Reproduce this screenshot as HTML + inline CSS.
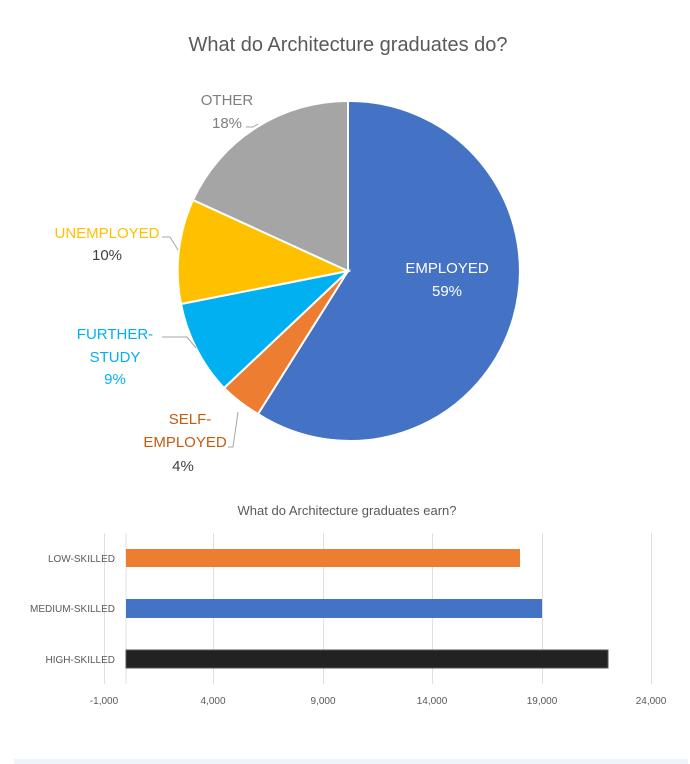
<!DOCTYPE html>
<html><head><meta charset="utf-8"><style>
html,body{margin:0;padding:0;background:#fff;}
body{width:690px;height:764px;position:relative;overflow:hidden;font-family:"Liberation Sans",sans-serif;}
</style></head><body>
<svg width="690" height="764" viewBox="0 0 690 764" xmlns="http://www.w3.org/2000/svg" style="position:absolute;left:0;top:0;font-family:'Liberation Sans',sans-serif">
<text x="348" y="51" text-anchor="middle" font-size="20" fill="#595959">What do Architecture graduates do?</text>
<g stroke="#fff" stroke-width="2">
<path d="M348,271 L348,101 A170,170 0 1 1 258,414 Z" fill="#4472C4"/>
<path d="M348,271 L258,414 A170,170 0 0 1 224,388 Z" fill="#ED7D31"/>
<path d="M348,271 L224,388 A170,170 0 0 1 181,304 Z" fill="#00B0F0"/>
<path d="M348,271 L181,304 A170,170 0 0 1 193,200 Z" fill="#FFC000"/>
<path d="M348,271 L193,200 A170,170 0 0 1 348,101 Z" fill="#A5A5A5"/>
</g>
<g fill="none" stroke="#a6a6a6" stroke-width="1">
<polyline points="246,127 253,127 258,124"/>
<polyline points="162,237 170,237 178,250"/>
<polyline points="162,337 187,337 196,348"/>
<polyline points="228,447 233,447 238,412"/>
</g>
<g font-size="15" text-anchor="middle">
<text x="227" y="105" fill="#7f7f7f">OTHER</text>
<text x="227" y="128" fill="#7f7f7f">18%</text>
<text x="107" y="238" fill="#FFC000">UNEMPLOYED</text>
<text x="107" y="260" fill="#404040">10%</text>
<text x="115" y="339" fill="#00B0F0">FURTHER-</text>
<text x="115" y="362" fill="#00B0F0">STUDY</text>
<text x="115" y="384" fill="#00B0F0">9%</text>
<text x="190" y="424" fill="#C55A11">SELF-</text>
<text x="185" y="447" fill="#C55A11">EMPLOYED</text>
<text x="183" y="471" fill="#404040">4%</text>
<text x="447" y="273" fill="#fff">EMPLOYED</text>
<text x="447" y="296" fill="#fff">59%</text>
</g>
<text x="347" y="515" text-anchor="middle" font-size="13" fill="#595959">What do Architecture graduates earn?</text>
<g stroke="#e0e0e0" stroke-width="1">
<line x1="104.5" y1="533" x2="104.5" y2="684"/>
<line x1="213.5" y1="533" x2="213.5" y2="684"/>
<line x1="323.5" y1="533" x2="323.5" y2="684"/>
<line x1="432.5" y1="533" x2="432.5" y2="684"/>
<line x1="542.5" y1="533" x2="542.5" y2="684"/>
<line x1="651.5" y1="533" x2="651.5" y2="684"/>
<line x1="126" y1="533" x2="126" y2="684"/>
</g>
<rect x="126" y="549" width="394" height="18" fill="#ED7D31"/>
<rect x="126" y="599" width="416" height="19" fill="#4472C4"/>
<rect x="126" y="650" width="482" height="18" fill="#222" stroke="#555" stroke-width="1"/>
<g font-size="10" fill="#595959" text-anchor="end">
<text x="115" y="562">LOW-SKILLED</text>
<text x="115" y="612">MEDIUM-SKILLED</text>
<text x="115" y="663">HIGH-SKILLED</text>
</g>
<g font-size="10" fill="#595959" text-anchor="middle">
<text x="104" y="704">-1,000</text>
<text x="213" y="704">4,000</text>
<text x="323" y="704">9,000</text>
<text x="432" y="704">14,000</text>
<text x="542" y="704">19,000</text>
<text x="651" y="704">24,000</text>
</g>
<rect x="14" y="759" width="674" height="5" fill="#eef3fc"/>
</svg>
</body></html>
